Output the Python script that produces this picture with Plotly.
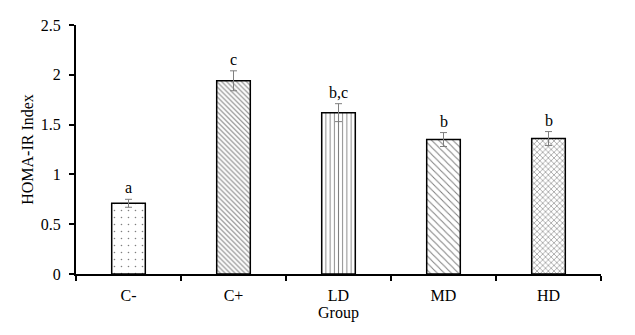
import plotly.graph_objects as go

# HOMA-IR index by treatment group
groups = ["C-", "C+", "LD", "MD", "HD"]
homa_ir = [0.71, 1.94, 1.62, 1.35, 1.36]
sem = [0.04, 0.10, 0.09, 0.07, 0.07]
letters = ["a", "c", "b,c", "b", "b"]

y_ticks = [0, 0.5, 1, 1.5, 2, 2.5]
y_tick_text = ["0", "0.5", "1", "1.5", "2", "2.5"]

pattern_shapes = [".", "\\", "|", "\\", "x"]
pattern_sizes = [7, 3.5, 4.2, 5, 4]
pattern_solidity = [0.04, 0.3, 0.22, 0.2, 0.28]

font_family = "Liberation Serif, Times New Roman, serif"

fig = go.Figure()
fig.add_trace(go.Bar(
    x=groups,
    y=homa_ir,
    width=0.32,
    marker=dict(
        color="white",
        line=dict(color="black", width=1.5),
        pattern=dict(
            shape=pattern_shapes,
            size=pattern_sizes,
            solidity=pattern_solidity,
            fgcolor="black",
            bgcolor="white",
            fillmode="overlay",
        ),
    ),
    error_y=dict(type="data", array=sem, visible=True,
                 color="#7f7f7f", thickness=1, width=3.5),
    showlegend=False,
))

for g, v, e, t in zip(groups, homa_ir, sem, letters):
    fig.add_annotation(x=g, y=v + e, text=t, showarrow=False,
                       yanchor="bottom", yshift=1,
                       font=dict(family=font_family, size=16, color="black"))

fig.update_layout(
    width=635, height=335,
    margin=dict(l=76, r=34, t=25, b=61),
    paper_bgcolor="white",
    plot_bgcolor="white",
    font=dict(family=font_family, size=16, color="black"),
)

fig.update_xaxes(
    title=dict(text="Group", font=dict(family=font_family, size=16), standoff=4),
    showline=True, linecolor="black", linewidth=2,
    ticks="outside", tickson="boundaries", ticklen=5, tickwidth=2, tickcolor="black",
    ticklabelstandoff=6,
    showgrid=False, zeroline=False,
    tickfont=dict(family=font_family, size=16),
)
fig.update_yaxes(
    title=dict(text="HOMA-IR Index", font=dict(family=font_family, size=16), standoff=3),
    range=[0, 2.5],
    tickvals=y_ticks, ticktext=y_tick_text,
    showline=True, linecolor="black", linewidth=2,
    ticks="outside", ticklen=5, tickwidth=2, tickcolor="black",
    ticklabelstandoff=5,
    showgrid=False, zeroline=False,
    tickfont=dict(family=font_family, size=16),
)

fig.write_html("out.html")
